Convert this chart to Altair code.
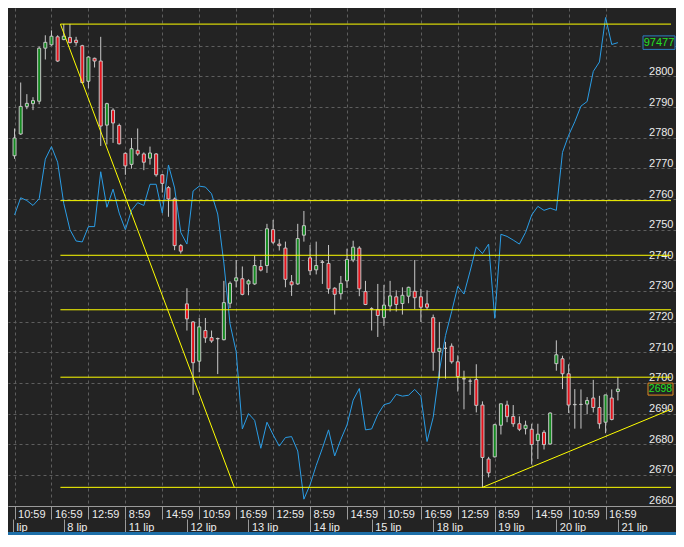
import json
import altair as alt
import pandas as pd

# hourly bars: index 0 = 7 lip 10:59 (trading hours 8:59 .. 17:59)
opens = [2774.1, 2781.2, 2790.2, 2791.1, 2791.9, 2809.2, 2810.3, 2812.9, 2812.0, 2812.7,
         2811.8, 2810.0, 2798.4, 2805.9, 2805.0, 2784.1, 2789.0, 2784.0, 2774.9, 2771.3,
         2775.9, 2774.7, 2773.3, 2774.7, 2767.9, 2763.7, 2760.0, 2744.8, 2725.8, 2719.9,
         2707.1, 2717.1, 2714.8, 2714.5, 2714.1, 2726.0, 2733.3, 2734.0, 2732.3, 2732.3,
         2738.0, 2738.3, 2750.0, 2745.3, 2744.0, 2733.0, 2732.3, 2748.2, 2740.8, 2736.9,
         2739.5, 2739.0, 2730.9, 2729.1, 2733.3, 2740.1, 2744.0, 2729.8, 2724.2, 2723.9,
         2721.3, 2725.1, 2728.1, 2725.9, 2728.3, 2729.9, 2728.1, 2725.8, 2721.3, 2710.3,
         2711.3, 2712.0, 2706.9, 2701.4, 2700.6, 2701.1, 2692.8, 2675.2, 2675.9, 2686.2,
         2692.8, 2689.1, 2686.7, 2685.1, 2684.9, 2681.2, 2683.9, 2680.1, 2706.3, 2707.9,
         2703.0, 2692.9, 2693.0, 2693.1, 2695.1, 2692.0, 2687.2, 2695.1, 2697.2]
highs = [2783.0, 2798.0, 2794.2, 2793.2, 2809.7, 2813.4, 2815.0, 2813.4, 2817.1, 2817.1,
         2812.9, 2810.3, 2806.6, 2806.1, 2812.9, 2791.4, 2789.6, 2784.6, 2775.2, 2779.9,
         2783.0, 2775.2, 2777.1, 2775.0, 2768.1, 2764.2, 2760.5, 2745.3, 2730.9, 2720.2,
         2721.2, 2721.2, 2717.1, 2714.8, 2733.3, 2733.1, 2740.1, 2738.0, 2733.8, 2741.5,
         2740.1, 2751.9, 2753.2, 2746.9, 2746.1, 2735.2, 2751.9, 2756.1, 2745.0, 2746.1,
         2740.1, 2745.0, 2731.2, 2734.9, 2743.8, 2746.4, 2744.6, 2733.3, 2724.7, 2732.3,
         2732.0, 2733.3, 2730.2, 2731.2, 2731.4, 2740.1, 2730.7, 2730.2, 2722.3, 2719.9,
         2713.4, 2712.9, 2709.0, 2704.0, 2701.4, 2706.1, 2694.0, 2675.9, 2686.7, 2693.2,
         2694.2, 2692.8, 2689.1, 2687.7, 2686.7, 2686.7, 2684.6, 2690.4, 2713.9, 2708.9,
         2706.1, 2698.0, 2697.9, 2695.4, 2701.0, 2695.8, 2696.1, 2697.9, 2701.9]
lows = [2773.1, 2780.9, 2789.3, 2789.0, 2790.9, 2805.5, 2810.0, 2804.7, 2811.8, 2810.8,
        2810.0, 2797.7, 2796.1, 2802.9, 2777.3, 2777.8, 2778.3, 2777.8, 2767.9, 2769.9,
        2774.1, 2769.4, 2771.2, 2767.3, 2762.1, 2754.2, 2743.3, 2742.2, 2717.1, 2696.1,
        2703.5, 2713.1, 2713.1, 2702.9, 2713.9, 2724.4, 2731.2, 2728.6, 2728.6, 2732.0,
        2736.4, 2735.9, 2745.3, 2743.2, 2731.2, 2728.4, 2732.0, 2746.1, 2735.2, 2735.4,
        2732.3, 2729.1, 2722.3, 2727.2, 2731.0, 2739.4, 2728.3, 2725.4, 2717.1, 2715.0,
        2718.6, 2723.3, 2723.3, 2722.3, 2726.0, 2724.1, 2719.9, 2723.9, 2704.0, 2701.4,
        2701.4, 2706.3, 2697.2, 2691.4, 2696.1, 2690.4, 2665.8, 2669.2, 2675.7, 2683.2,
        2687.2, 2685.7, 2684.3, 2683.2, 2673.4, 2675.2, 2678.3, 2679.9, 2704.0, 2698.0,
        2690.2, 2685.1, 2685.1, 2689.8, 2690.4, 2685.1, 2683.6, 2687.8, 2694.3]
closes = [2779.9, 2790.2, 2791.2, 2792.1, 2809.2, 2811.1, 2813.1, 2805.0, 2813.1, 2811.0,
          2811.0, 2798.0, 2806.3, 2805.0, 2783.8, 2791.1, 2784.8, 2778.0, 2770.8, 2776.4,
          2774.7, 2772.0, 2775.0, 2767.9, 2765.1, 2760.0, 2744.8, 2743.0, 2720.9, 2706.6,
          2718.3, 2714.7, 2713.7, 2714.4, 2726.2, 2732.5, 2734.3, 2728.9, 2733.3, 2738.3,
          2736.8, 2750.3, 2745.9, 2744.8, 2733.8, 2732.0, 2747.1, 2751.3, 2736.6, 2738.3,
          2739.3, 2730.7, 2728.9, 2732.5, 2740.3, 2744.3, 2730.7, 2725.6, 2724.1, 2722.0,
          2725.4, 2728.4, 2725.6, 2728.6, 2731.2, 2727.8, 2724.7, 2724.7, 2710.0, 2711.3,
          2711.3, 2706.9, 2702.1, 2701.3, 2700.6, 2692.7, 2675.7, 2670.7, 2686.4, 2693.2,
          2689.0, 2686.7, 2684.9, 2686.2, 2679.9, 2683.3, 2679.9, 2690.2, 2709.2, 2703.0,
          2692.8, 2693.0, 2693.0, 2694.3, 2692.0, 2686.7, 2696.1, 2688.1, 2698.0]
# overlay instrument (blue line), expressed on the price axis
overlay = [2754.8, 2760.4, 2759.5, 2757.9, 2760.1, 2773.0, 2777.1, 2772.0, 2758.5, 2750.0,
           2746.3, 2746.0, 2751.0, 2751.0, 2768.9, 2757.3, 2763.2, 2755.4, 2750.0, 2756.3,
           2758.8, 2757.9, 2764.8, 2764.8, 2755.4, 2771.1, 2763.6, 2749.1, 2745.3, 2762.6,
           2764.2, 2763.9, 2761.7, 2755.1, 2739.1, 2719.3, 2710.2, 2685.0, 2690.0, 2687.8,
           2678.7, 2687.2, 2683.1, 2679.4, 2682.2, 2682.5, 2677.8, 2662.1, 2666.8, 2673.1,
           2678.7, 2684.7, 2676.2, 2681.6, 2686.3, 2694.4, 2698.2, 2684.7, 2685.0, 2689.7,
           2692.9, 2693.5, 2696.3, 2695.7, 2696.0, 2697.9, 2695.7, 2680.9, 2688.8, 2703.9,
           2715.5, 2723.3, 2731.5, 2729.0, 2736.5, 2744.4, 2742.2, 2745.3, 2721.1, 2748.5,
           2747.8, 2746.6, 2745.3, 2749.1, 2754.8, 2757.6, 2756.3, 2757.0, 2756.3, 2775.2,
           2780.8, 2785.2, 2790.3, 2791.8, 2801.6, 2804.7, 2819.2, 2810.4, 2811.0]
overlay_label = "97477"

# horizontal levels and trend lines
levels = [2817.05, 2759.47, 2741.65, 2723.87, 2701.88, 2665.96]
level_start = 7.45
trend_x = [7.45, 76.05]
trend_y = [2817.05, 2666.0]
trend_x2 = [35.7, 106.625]
trend_y2 = [2665.96, 2691.4]

# axes
price_ticks = [2660, 2670, 2680, 2690, 2700, 2710, 2720, 2730, 2740, 2750, 2760, 2770, 2780, 2790, 2800, 2810]
price_hidden = [2810]  # covered by the overlay price tag
time_ticks = [0, 6, 12, 18, 24, 30, 36, 42, 48, 54, 60, 66, 72, 78, 84, 90, 96]
time_labels = ["10:59", "16:59", "12:59", "8:59", "14:59", "10:59", "16:59", "12:59", "8:59",
               "14:59", "10:59", "16:59", "12:59", "8:59", "14:59", "10:59", "16:59"]
date_ticks = [-0.25, 8, 18, 28, 38, 48, 58, 68, 78, 88, 98]
date_labels = ["lip", "8 lip", "11 lip", "12 lip", "13 lip", "14 lip", "15 lip", "18 lip",
               "19 lip", "20 lip", "21 lip"]

X_MIN, X_MAX = -0.25, 106.625
Y_MIN, Y_MAX = 2659.87, 2822.3
W, H = 668, 498

BG = "#232323"
GRID = "#5e5e5e"
TXT = "#ececec"
FONT = "Liberation Sans"

n = len(opens)
bars = pd.DataFrame({"i": list(range(n)), "open": opens, "high": highs, "low": lows,
                     "close": closes, "overlay": overlay})
bars["lo"] = bars[["open", "close"]].min(axis=1)
bars["hi"] = bars[["open", "close"]].max(axis=1)
bars["dir"] = ["up" if c >= o else "down" for o, c in zip(opens, closes)]

lv = pd.DataFrame({"level": levels, "x0": [level_start] * len(levels), "x1": [X_MAX] * len(levels)})
tr = pd.DataFrame({"x": trend_x, "y": trend_y, "x2": trend_x2, "y2": trend_y2})

xs = alt.Scale(domain=[X_MIN, X_MAX], nice=False, zero=False)
ys = alt.Scale(domain=[Y_MIN, Y_MAX], nice=False, zero=False)

price_expr = f"indexof({json.dumps(price_hidden)}, datum.value) >= 0 ? '' : format(datum.value, 'd')"
y_axis = alt.Axis(orient="right", values=price_ticks, labelExpr=price_expr, title=None, grid=True,
                  gridColor=GRID, gridDash=[3, 3], gridWidth=1, ticks=False, domain=False,
                  labelAlign="right", labelPadding=-3, labelBaseline="alphabetic", labelOffset=-2,
                  labelColor=TXT, labelFont=FONT, labelFontSize=11, labelOverlap=False,
                  labelFlush=False, labelBound=False)

time_expr = f"{json.dumps(time_labels)}[indexof({json.dumps(time_ticks)}, datum.value)]"
date_expr = f"{json.dumps(date_labels)}[indexof({json.dumps(date_ticks)}, datum.value)]"

time_axis = alt.Axis(orient="bottom", values=time_ticks, labelExpr=time_expr, title=None,
                     grid=True, gridColor=GRID, gridDash=[3, 3], gridWidth=1,
                     domain=True, domainColor="#9a9a9a", ticks=True, tickSize=13, tickColor="#9a9a9a",
                     labelAlign="left", labelBaseline="top", labelPadding=-11, labelOffset=3,
                     labelColor=TXT, labelFont=FONT, labelFontSize=11, labelOverlap=False,
                     labelFlush=False, labelBound=False)
date_axis = alt.Axis(orient="bottom", offset=13, values=date_ticks, labelExpr=date_expr, title=None,
                     grid=False, domain=False, ticks=True, tickSize=13, tickColor="#9a9a9a",
                     labelAlign="left", labelBaseline="top", labelPadding=-11, labelOffset=3,
                     labelColor=TXT, labelFont=FONT, labelFontSize=11, labelOverlap=False,
                     labelFlush=False, labelBound=False)

base = alt.Chart(bars)

blue_line = base.mark_line(color="#2a9de6", strokeWidth=1).encode(
    x=alt.X("i:Q", scale=xs, axis=time_axis),
    y=alt.Y("overlay:Q", scale=ys, axis=y_axis),
)

wicks = base.mark_rule(color="#c8c8c8", strokeWidth=1).encode(
    x=alt.X("i:Q", scale=xs, axis=date_axis),
    y=alt.Y("low:Q", scale=ys, axis=y_axis),
    y2="high:Q",
)

bodies = base.mark_bar(size=3, stroke="#c4c4c4", strokeWidth=1).encode(
    x=alt.X("i:Q", scale=xs, axis=None),
    y=alt.Y("lo:Q", scale=ys, axis=y_axis),
    y2="hi:Q",
    color=alt.Color("dir:N", scale=alt.Scale(domain=["up", "down"], range=["#13891f", "#e5121b"]),
                    legend=None),
)

level_lines = alt.Chart(lv).mark_rule(color="#ffff00", strokeWidth=1).encode(
    x=alt.X("x0:Q", scale=xs, axis=None),
    x2="x1:Q",
    y=alt.Y("level:Q", scale=ys, axis=y_axis),
)

trend_lines = alt.Chart(tr).mark_rule(color="#ffff00", strokeWidth=1).encode(
    x=alt.X("x:Q", scale=xs, axis=None),
    x2="x2:Q",
    y=alt.Y("y:Q", scale=ys, axis=y_axis),
    y2="y2:Q",
)

tags = pd.DataFrame({"v": [overlay[-1], closes[-1]],
                     "txt": [overlay_label, f"{closes[-1]:.0f}"]})


def tag(row, cx, w, h, stroke, fs):
    d = tags.iloc[[row]]
    r = h / w
    shape = f"M-1,{-r}L1,{-r}L1,{r}L-1,{r}Z"
    box = alt.Chart(d).mark_point(shape=shape, size=w * w, filled=True, fill=BG, stroke=stroke,
                                  strokeWidth=1, opacity=1).encode(
        x=alt.value(cx), y=alt.Y("v:Q", scale=ys, axis=y_axis))
    txt = alt.Chart(d).mark_text(font=FONT, fontSize=fs, color="#24e024", align="center",
                                 baseline="middle").encode(
        x=alt.value(cx), y=alt.Y("v:Q", scale=ys, axis=y_axis), text="txt:N")
    return box + txt


tag1 = tag(0, W - 17, 32, 13.5, "#2d7fc2", 11)
tag2 = tag(1, W - 15.5, 25, 12, "#e08a22", 10.5)

bottom_bar = alt.Chart(pd.DataFrame({"k": [0]})).mark_rule(color="#1d6fa8", strokeWidth=3).encode(
    x=alt.value(0), x2=alt.value(W), y=alt.value(H + 27.5))

chart = alt.layer(
    blue_line, wicks, bodies, level_lines, trend_lines, tag1, tag2, bottom_bar
).resolve_axis(x="independent").properties(
    width=W, height=H, autosize=alt.AutoSizeParams(type="none"),
    padding={"left": 0, "top": 0, "right": 0, "bottom": 29}, background=BG,
).configure_view(stroke=None)

chart.save("out.html", embed_options={"renderer": "svg", "actions": False})
